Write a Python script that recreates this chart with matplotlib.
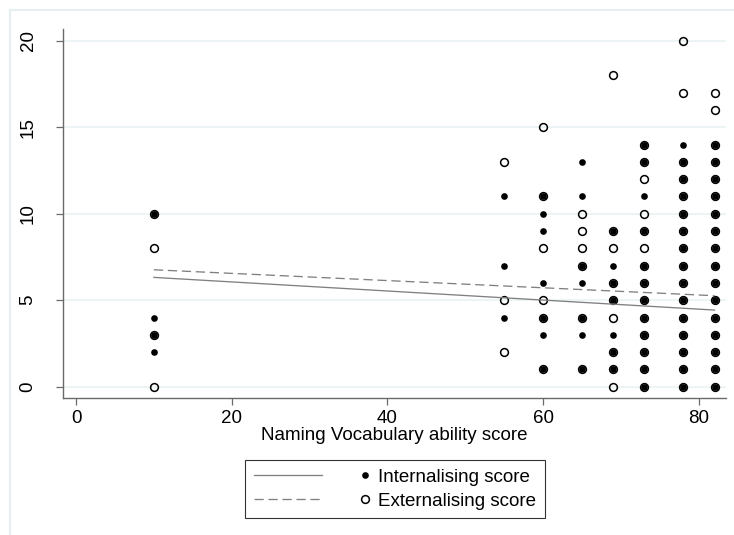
import matplotlib
matplotlib.use('Agg')
import matplotlib.pyplot as plt
from matplotlib.lines import Line2D
from matplotlib.legend_handler import HandlerBase

plt.rcParams.update({
    'font.family': ['Liberation Sans', 'DejaVu Sans'],
    'font.size': 13.5,
})

# vocabulary score levels and the scores observed at each level
vocab_levels = [10, 55, 60, 65, 69, 73, 78, 82]
internalising = [
    [10, 4, 3, 2],
    [11, 7, 4],
    [11, 10, 9, 6, 4, 3, 1],
    [13, 11, 7, 6, 4, 3, 1],
    [9, 7, 6, 5, 3, 2, 1],
    [14, 13, 11, 9, 7, 6, 5, 4, 3, 2, 1, 0],
    [14, 13, 12, 11, 10, 9, 8, 7, 6, 5, 4, 3, 2, 1, 0],
    [14, 13, 12, 11, 10, 9, 8, 7, 6, 5, 4, 3, 2, 1, 0],
]
externalising = [
    [10, 8, 3, 0],
    [13, 5, 2],
    [15, 11, 8, 5, 4, 1],
    [10, 9, 8, 7, 4, 1],
    [18, 9, 8, 6, 5, 4, 2, 1, 0],
    [14, 13, 12, 10, 9, 8, 7, 6, 5, 4, 3, 2, 1, 0],
    [20, 17, 13, 12, 11, 10, 9, 8, 7, 6, 5, 4, 3, 2, 1, 0],
    [17, 16, 14, 13, 12, 11, 10, 9, 8, 7, 6, 5, 4, 3, 2, 1, 0],
]

# linear fit end points
fit_x = [10, 82]
int_fit = [6.32, 4.43]
ext_fit = [6.76, 5.26]

x_ticks = [0, 20, 40, 60, 80]
y_ticks = [0, 5, 10, 15, 20]

FIT_COLOR = '#808080'
DASH = (0, (7, 3.6))


def flatten(levels, groups):
    xs, ys = [], []
    for lv, vals in zip(levels, groups):
        xs += [lv] * len(vals)
        ys += vals
    return xs, ys


class LineDotHandler(HandlerBase):
    # fitted line on the left, marker on the right, like the Stata key
    def create_artists(self, legend, orig_handle, xdescent, ydescent,
                       width, height, fontsize, trans):
        line, dot = orig_handle
        y = height / 2 - ydescent
        l = Line2D([-xdescent, -xdescent + 0.58 * width], [y, y],
                   color=line.get_color(), linewidth=line.get_linewidth(),
                   linestyle=line.get_linestyle(), transform=trans)
        if line.get_linestyle() != '-':
            l.set_linestyle(DASH)
        m = Line2D([-xdescent + 0.94 * width], [y], linestyle='none',
                   marker='o', markersize=dot.get_markersize(),
                   markerfacecolor=dot.get_markerfacecolor(),
                   markeredgecolor=dot.get_markeredgecolor(),
                   markeredgewidth=dot.get_markeredgewidth(),
                   transform=trans)
        return [l, m]


fig = plt.figure(figsize=(7.34, 5.35), dpi=100)
ax = fig.add_axes([63 / 734, 1 - 397.7 / 535, 663 / 734, 368.7 / 535])

ix, iy = flatten(vocab_levels, internalising)
ex, ey = flatten(vocab_levels, externalising)

dot_i, = ax.plot(ix, iy, 'o', color='black', markersize=4.8,
                 markeredgewidth=0, linestyle='none', zorder=3)
dot_e, = ax.plot(ex, ey, 'o', markerfacecolor='none', markeredgecolor='black',
                 markersize=5.6, markeredgewidth=1.1, linestyle='none', zorder=3)
line_i, = ax.plot(fit_x, int_fit, color=FIT_COLOR, linewidth=0.95, zorder=4)
line_e, = ax.plot(fit_x, ext_fit, color=FIT_COLOR, linewidth=0.95,
                  linestyle=DASH, zorder=4)

ax.set_xlim(-1.67, 83.47)
ax.set_ylim(-0.636, 20.68)
ax.set_xticks(x_ticks)
ax.set_yticks(y_ticks)
ax.set_yticklabels([str(v) for v in y_ticks], rotation=90, va='center')

ax.grid(axis='y', color='#eaf2f3', linewidth=1.2, zorder=0)
ax.set_axisbelow(True)
for s in ['top', 'right']:
    ax.spines[s].set_visible(False)
for s in ['left', 'bottom']:
    ax.spines[s].set_color('#6a6a6a')
    ax.spines[s].set_linewidth(1.0)
ax.tick_params(axis='both', color='#6a6a6a', length=5, width=0.9)
ax.tick_params(axis='x', pad=4)
ax.tick_params(axis='y', pad=14)

ax.set_xlabel('Naming Vocabulary ability score', labelpad=0)

leg = fig.legend([(line_i, dot_i), (line_e, dot_e)],
                 ['Internalising score', 'Externalising score'],
                 handler_map={tuple: LineDotHandler()},
                 loc='center', bbox_to_anchor=(395 / 734, 1 - 489.3 / 535),
                 fancybox=False, frameon=True, edgecolor='black',
                 handlelength=6.3, handletextpad=0.33, borderpad=0.45,
                 labelspacing=0.35, borderaxespad=0)
leg.get_frame().set_linewidth(0.8)

# faint top and left edge of the graph region
frame_kw = dict(transform=fig.transFigure, color='#e6eef1', linewidth=1.5)
fig.add_artist(Line2D([10 / 734, 1], [1 - 9.5 / 535, 1 - 9.5 / 535], **frame_kw))
fig.add_artist(Line2D([10 / 734, 10 / 734], [0, 1 - 9.5 / 535], **frame_kw))

fig.savefig('out.png', dpi=100)
